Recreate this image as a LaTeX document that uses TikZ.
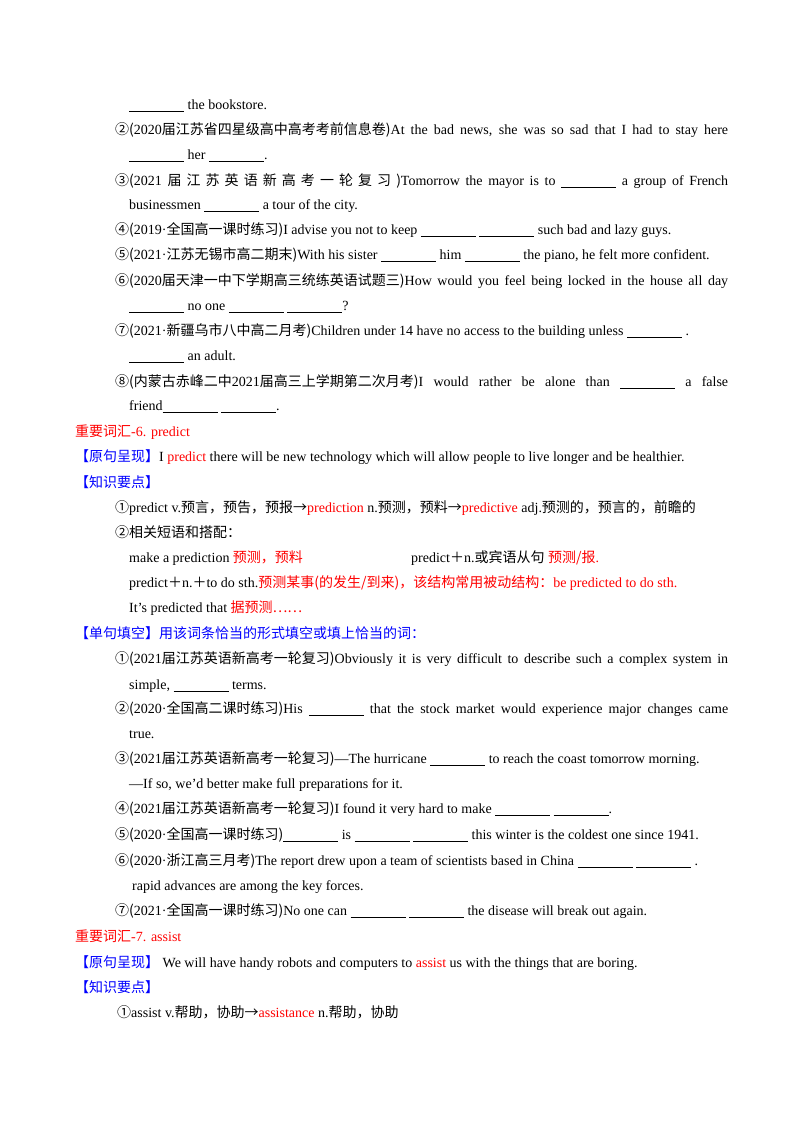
\documentclass[tikz,border=0pt]{standalone}
\usepackage{fontspec}
\setmainfont{Liberation Serif}
\newfontfamily\cjk{Noto Sans CJK SC}
\newcommand\zh[1]{{\cjk #1}}
\newcommand\bl{\rule[-2.5pt]{55pt}{0.6pt}}
\newcommand\R[1]{\textcolor{red}{#1}}
\newcommand\B[1]{\textcolor{blue}{#1}}
\newcommand\J[1]{\hbox to 613pt{#1}}
\begin{document}
\begin{tikzpicture}[x=1pt,y=-1pt,ln/.style={anchor=base west,inner sep=0,font=\fontsize{14}{16}\selectfont}]
\useasboundingbox (0,0) rectangle (800,1132);
\node[ln] (l1) at (129,109) {\bl{} the bookstore.};
\node[ln] (l2) at (115,134) {\J{\zh{②(}2020\zh{届江苏省四星级高中高考考前信息卷)}At the bad news, she was so sad that  I had to stay here}};
\node[ln] (l3) at (129,159) {\bl{} her \bl.};
\node[ln] (l4) at (115,185) {\J{\zh{③(}2021 \zh{届 江 苏 英 语 新 高 考 一 轮 复 习 )}Tomorrow the mayor is to \bl{} a group of French}};
\node[ln] (l5) at (129,209) {businessmen \bl{} a tour of the city.};
\node[ln] (l6) at (115,234) {\zh{④(}2019·\zh{全国高一课时练习)}I advise you not to keep \bl{} \bl{} such bad and lazy guys.};
\node[ln] (l7) at (115,259) {\zh{⑤(}2021·\zh{江苏无锡市高二期末)}With his sister \bl{} him \bl{} the piano, he felt more confident.};
\node[ln] (l8) at (115,285) {\J{\zh{⑥(}2020\zh{届天津一中下学期高三统练英语试题三)}How would you feel being locked in the house all day}};
\node[ln] (l9) at (129,310) {\bl{} no one \bl{} \bl?};
\node[ln] (l10) at (115,335) {\zh{⑦(}2021·\zh{新疆乌市八中高二月考)}Children under 14 have no access to the building unless \bl{} .};
\node[ln] (l11) at (129,360) {\bl{} an adult.};
\node[ln] (l12) at (115,386) {\J{\zh{⑧(内蒙古赤峰二中}2021\zh{届高三上学期第二次月考)}I would rather be alone than  \bl{} a false}};
\node[ln] (l13) at (129,410) {friend\bl{} \bl.};
\node[ln] (l14) at (75,436) {\R{\zh{重要词汇}-6. predict}};
\node[ln] (l15) at (75,461) {\B{\zh{【原句呈现】}}I \R{predict} there will be new technology which will allow people to live longer and be healthier.};
\node[ln] (l16) at (75,487) {\B{\zh{【知识要点】}}};
\node[ln] (l17) at (115,512) {\zh{①}predict v.\zh{预言，预告，预报→}\R{prediction} n.\zh{预测，预料→}\R{predictive} adj.\zh{预测的，预言的，前瞻的}};
\node[ln] (l18) at (115,537) {\zh{②相关短语和搭配：}};
\node[ln] (l19) at (129,562) {make a prediction \R{\zh{预测，预料}}};
\node[ln] (l19b) at (411,562) {predict\zh{＋}n.\zh{或宾语从句} \R{\zh{预测/报}.}};
\node[ln] (l20) at (129,587) {predict\zh{＋}n.\zh{＋}to do sth.\R{\zh{预测某事(的发生/到来)，该结构常用被动结构：}be predicted to do sth.}};
\node[ln] (l21) at (129,612) {It’s predicted that \R{\zh{据预测……}}};
\node[ln] (l22) at (75,638) {\B{\zh{【单句填空】用该词条恰当的形式填空或填上恰当的词：}}};
\node[ln] (l23) at (115,663) {\J{\zh{①(}2021\zh{届江苏英语新高考一轮复习)}Obviously it is very difficult to describe such a complex system in}};
\node[ln] (l24) at (129,689) {simple, \bl{} terms.};
\node[ln] (l25) at (115,713) {\J{\zh{②(}2020·\zh{全国高二课时练习)}His \bl{} that the stock market would experience major changes came}};
\node[ln] (l26) at (129,738) {true.};
\node[ln] (l27) at (115,763) {\zh{③(}2021\zh{届江苏英语新高考一轮复习)}—The hurricane \bl{} to reach the coast tomorrow morning.};
\node[ln] (l28) at (129,788) {—If so, we’d better make full preparations for it.};
\node[ln] (l29) at (115,813) {\zh{④(}2021\zh{届江苏英语新高考一轮复习)}I found it very hard to make \bl{}  \bl.};
\node[ln] (l30) at (115,839) {\zh{⑤(}2020·\zh{全国高一课时练习)}\bl{}  is  \bl{} \bl{} this winter is the coldest one since 1941.};
\node[ln] (l31) at (115,865) {\zh{⑥(}2020·\zh{浙江高三月考)}The report drew upon a team of scientists based in China \bl{} \bl{} .};
\node[ln] (l32) at (132,890) {rapid advances are among the key forces.};
\node[ln] (l33) at (115,915) {\zh{⑦(}2021·\zh{全国高一课时练习)}No one can  \bl{} \bl{} the disease will break out again.};
\node[ln] (l34) at (75,941) {\R{\zh{重要词汇}-7. assist}};
\node[ln] (l35) at (75,967) {\B{\zh{【原句呈现】}} We will have handy robots and computers to \R{assist} us with the things that are boring.};
\node[ln] (l36) at (75,992) {\B{\zh{【知识要点】}}};
\node[ln] (l37) at (117,1017) {\zh{①}assist v.\zh{帮助，协助→}\R{assistance} n.\zh{帮助，协助}};
\end{tikzpicture}
\end{document}
